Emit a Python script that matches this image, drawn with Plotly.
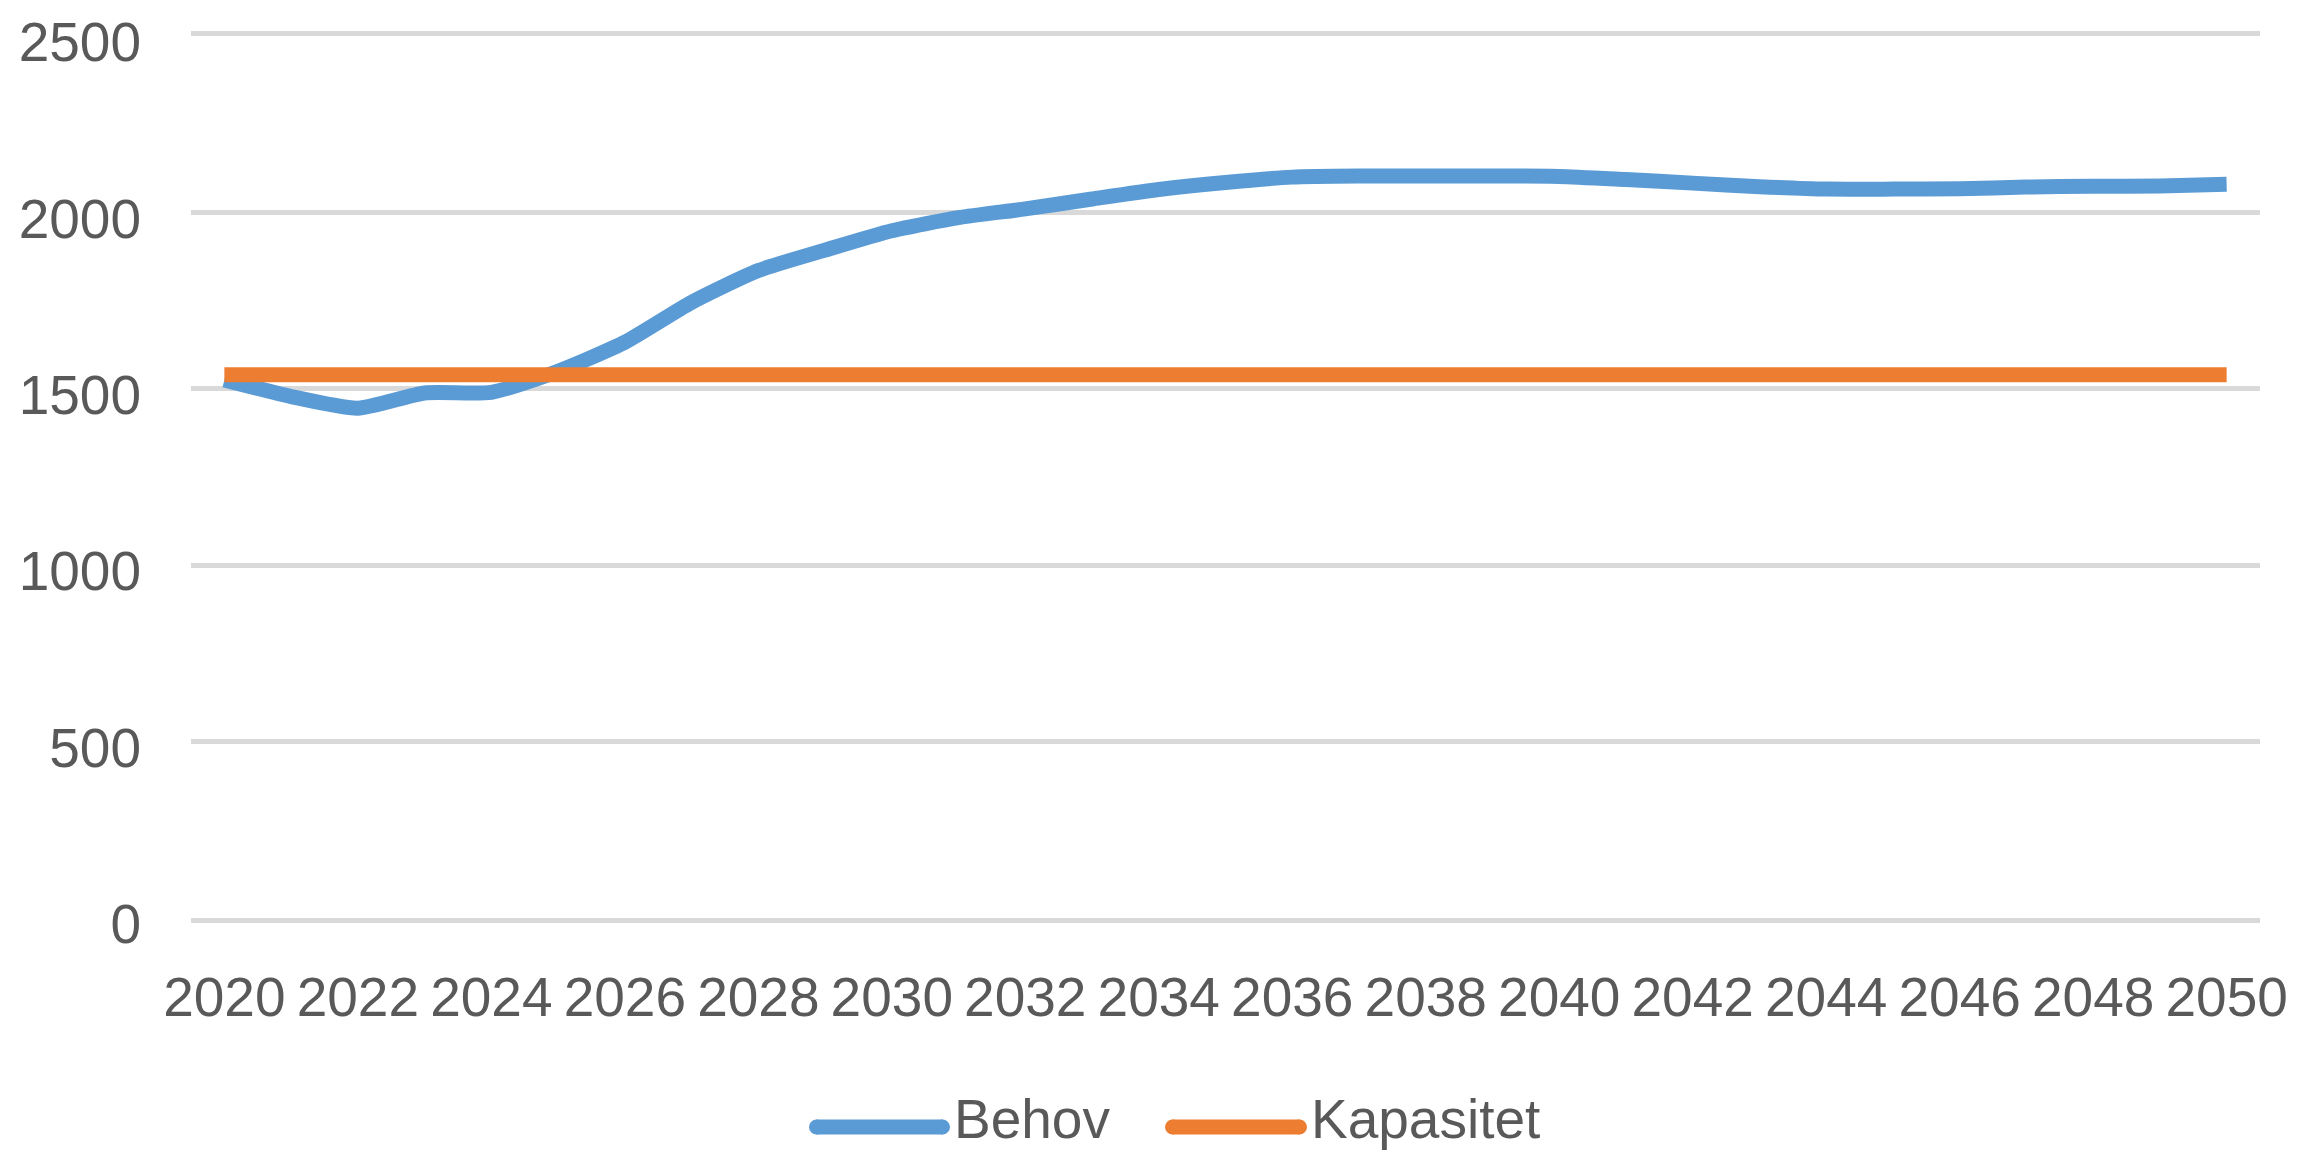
import plotly.graph_objects as go

years = list(range(2020, 2051))
behov = [1525, 1478, 1445, 1488, 1490, 1550, 1632, 1745, 1835, 1893,
         1948, 1985, 2010, 2038, 2065, 2085, 2100, 2103, 2103, 2103,
         2102, 2093, 2083, 2073, 2066, 2066, 2067, 2072, 2074, 2075, 2080]
kapasitet = [1540] * len(years)
x_ticks = list(range(2020, 2051, 2))
y_ticks = [0, 500, 1000, 1500, 2000, 2500]

BLUE = "#5B9BD5"
ORANGE = "#ED7D31"
GRID = "#D9D9D9"
TEXT = "#595959"
FONT = "Liberation Sans"
FS = 55

OFF = 8  # default page (body) margin of the written html
W, H = 2300 - OFF, 1154 - OFF
# plot area in page pixels: x 191..2260, y 36..918
ML = 191 - OFF
MT = 36 - OFF
MR = W - (2260 - OFF)
MB = H - (918 - OFF)
PW = W - ML - MR
PH = H - MT - MB

def px_x(x):  # page pixel -> paper
    return (x - OFF - ML) / PW

def px_y(y):
    return (H - MB - (y - OFF)) / PH

fig = go.Figure()
fig.add_trace(go.Scatter(x=years, y=behov, mode="lines", name="Behov",
                         line=dict(color=BLUE, width=15, shape="spline", smoothing=0.6),
                         showlegend=False))
fig.add_trace(go.Scatter(x=years, y=kapasitet, mode="lines", name="Kapasitet",
                         line=dict(color=ORANGE, width=15),
                         showlegend=False))

# manual legend (long line swatches, as in the reference)
legend_items = [("Behov", BLUE, 809, 950, 952), ("Kapasitet", ORANGE, 1165, 1307, 1309)]
shapes = []
annotations = []
ly = 1127
for name, col, x0, x1, tx in legend_items:
    shapes.append(dict(type="line", xref="paper", yref="paper",
                       x0=px_x(x0 + 7), x1=px_x(x1 - 7), y0=px_y(ly), y1=px_y(ly),
                       line=dict(color=col, width=15)))
    for cx in (x0 + 7.5, x1 - 7.5):
        shapes.append(dict(type="circle", xref="paper", yref="paper",
                           x0=px_x(cx - 7.5), x1=px_x(cx + 7.5),
                           y0=px_y(ly + 7.5), y1=px_y(ly - 7.5),
                           fillcolor=col, line=dict(width=0)))
    annotations.append(dict(text=name, xref="paper", yref="paper",
                            x=px_x(tx), y=px_y(1152), xanchor="left", yanchor="bottom",
                            showarrow=False, font=dict(family=FONT, size=FS, color=TEXT)))

fig.update_layout(
    width=W, height=H,
    margin=dict(l=ML, r=MR, t=MT, b=MB, autoexpand=False),
    paper_bgcolor="white", plot_bgcolor="white",
    font=dict(family=FONT, size=FS, color=TEXT),
    shapes=shapes, annotations=annotations,
    showlegend=False,
)
fig.update_xaxes(range=[2019.5, 2050.5], tickvals=x_ticks, ticktext=[str(v) for v in x_ticks],
                 showgrid=False, zeroline=False, showline=True, mirror=True,
                 linecolor=GRID, linewidth=5, automargin=False, ticklabeloverflow="allow",
                 ticks="", ticklabelstandoff=27,
                 tickfont=dict(family=FONT, size=FS, color=TEXT))
fig.update_yaxes(range=[0, 2500], tickvals=y_ticks, showgrid=True, gridcolor=GRID, gridwidth=5,
                 zeroline=False, showline=False, ticks="", ticklabelstandoff=49, automargin=False,
                 ticklabeloverflow="allow", ticklabelshift=6,
                 tickfont=dict(family=FONT, size=FS, color=TEXT))

fig.write_html("out.html")
